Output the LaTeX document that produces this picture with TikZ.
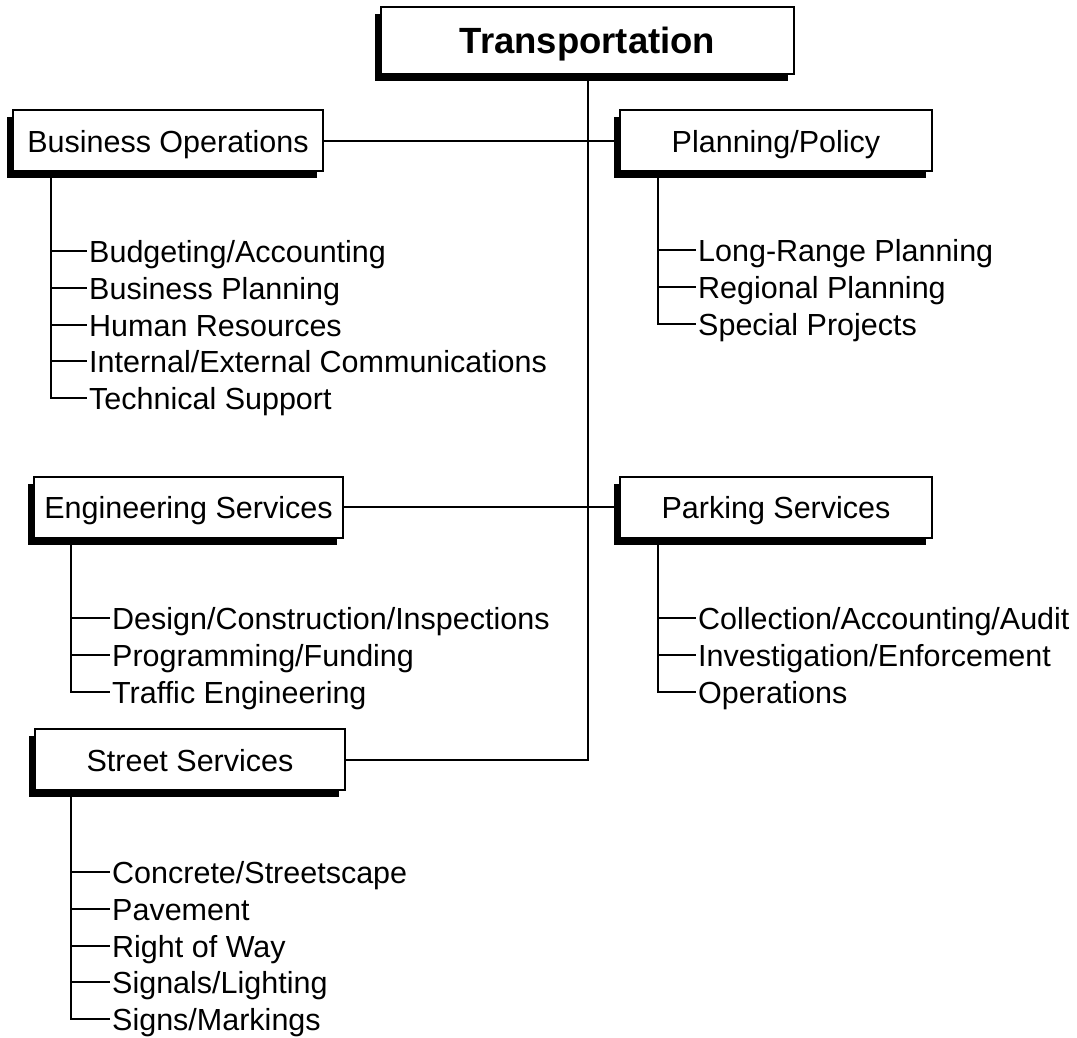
\documentclass[tikz,border=0pt]{standalone}
\usepackage{fontspec}
\setmainfont{Liberation Sans}
\usetikzlibrary{shadows,calc}
\begin{document}
\begin{tikzpicture}[x=1pt,y=-1pt,
  box/.style={draw=black, line width=2pt, fill=white, inner sep=0pt,
    text height=23pt, text depth=0pt, minimum height=61pt,
    font=\fontsize{30.5}{36}\selectfont,
    general shadow={fill=black, shadow xshift=-6pt, shadow yshift=-7pt}},
  titlebox/.style={box, minimum height=67pt, text height=26pt,
    font=\fontsize{36.5}{42}\selectfont\bfseries},
  item/.style={anchor=west, inner xsep=3.5pt, inner ysep=0pt,
    text height=23pt, text depth=0pt, font=\fontsize{30.5}{36}\selectfont},
  conn/.style={line width=2pt, line cap=rect}]
\useasboundingbox (0,0) rectangle (1077,1037);

% boxes
\node[titlebox, minimum width=413pt] (t) at (587.5,40.5) {Transportation};
\node[box, minimum width=310pt] (bo) at (168,140.5) {Business Operations};
\node[box, minimum width=312pt] (pp) at (776,140.5) {Planning/Policy};
\node[box, minimum width=309pt] (es) at (188.5,507) {Engineering Services};
\node[box, minimum width=312pt] (ps) at (776,507) {Parking Services};
\node[box, minimum width=310pt] (ss) at (190,759.5) {Street Services};

% main connectors
\draw[conn] (bo.east) -- (pp.west);
\draw[conn] (es.east) -- (ps.west);
\draw[conn] (ss.east) -| (t.south);

% Business Operations list
\node[item] (bo1) at (85.5,251) {Budgeting/Accounting};
\node[item] (bo2) at (85.5,287.75) {Business Planning};
\node[item] (bo3) at (85.5,324.5) {Human Resources};
\node[item] (bo4) at (85.5,361.25) {Internal/External Communications};
\node[item] (bo5) at (85.5,398) {Technical Support};
\coordinate (bostem) at ($(bo.south west)+(39,0)$);
\draw[conn] (bostem) |- (bo5.west);
\foreach \i in {1,...,4} \draw[conn] (bo\i.west -| bostem) -- (bo\i.west);

% Planning/Policy list
\node[item] (pp1) at (694.5,250) {Long-Range Planning};
\node[item] (pp2) at (694.5,286.75) {Regional Planning};
\node[item] (pp3) at (694.5,323.5) {Special Projects};
\coordinate (ppstem) at ($(pp.south west)+(39,0)$);
\draw[conn] (ppstem) |- (pp3.west);
\foreach \i in {1,2} \draw[conn] (pp\i.west -| ppstem) -- (pp\i.west);

% Engineering Services list
\node[item] (es1) at (108.5,618) {Design/Construction/Inspections};
\node[item] (es2) at (108.5,654.75) {Programming/Funding};
\node[item] (es3) at (108.5,691.5) {Traffic Engineering};
\coordinate (esstem) at ($(es.south west)+(38,0)$);
\draw[conn] (esstem) |- (es3.west);
\foreach \i in {1,2} \draw[conn] (es\i.west -| esstem) -- (es\i.west);

% Parking Services list
\node[item] (ps1) at (694.5,618) {Collection/Accounting/Audit};
\node[item] (ps2) at (694.5,654.75) {Investigation/Enforcement};
\node[item] (ps3) at (694.5,691.5) {Operations};
\coordinate (psstem) at ($(ps.south west)+(39,0)$);
\draw[conn] (psstem) |- (ps3.west);
\foreach \i in {1,2} \draw[conn] (ps\i.west -| psstem) -- (ps\i.west);

% Street Services list
\node[item] (ss1) at (108.5,872) {Concrete/Streetscape};
\node[item] (ss2) at (108.5,908.75) {Pavement};
\node[item] (ss3) at (108.5,945.5) {Right of Way};
\node[item] (ss4) at (108.5,982.25) {Signals/Lighting};
\node[item] (ss5) at (108.5,1019) {Signs/Markings};
\coordinate (ssstem) at ($(ss.south west)+(37,0)$);
\draw[conn] (ssstem) |- (ss5.west);
\foreach \i in {1,...,4} \draw[conn] (ss\i.west -| ssstem) -- (ss\i.west);
\end{tikzpicture}
\end{document}
